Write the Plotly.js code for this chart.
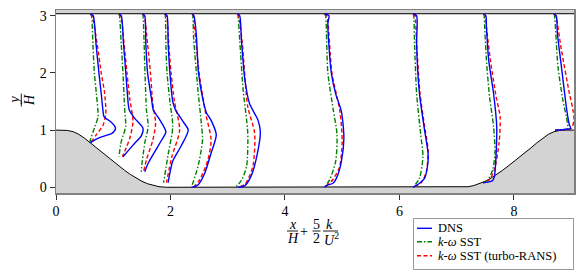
<!DOCTYPE html>
<html>
<head>
<meta charset="utf-8">
<script src="https://cdn.plot.ly/plotly-3.0.1.min.js"></script>
<style>html,body{margin:0;padding:0;background:#fff;}#chart{width:585px;height:279px;}</style>
</head>
<body>
<div id="chart"></div>
<script>
// ---- Data ----
// Hill geometry (x/H, y/H)
const hillX = [0, 0.1, 0.2, 0.3, 0.4, 0.5, 0.6, 0.7, 0.8, 0.9, 1.0, 1.1, 1.2, 1.3, 1.4, 1.5, 1.6, 1.7, 1.8, 1.929,
               7.071, 7.2, 7.3, 7.4, 7.5, 7.6, 7.7, 7.8, 7.9, 8.0, 8.1, 8.2, 8.3, 8.4, 8.5, 8.6, 8.7, 8.8, 8.9, 9.0, 9.05];
const hillY = [1, 1, 0.994, 0.972, 0.925, 0.857, 0.776, 0.691, 0.607, 0.527, 0.448, 0.371, 0.295, 0.224, 0.160, 0.105, 0.062, 0.030, 0.010, 0,
               0, 0.010, 0.030, 0.062, 0.105, 0.160, 0.224, 0.295, 0.371, 0.448, 0.527, 0.607, 0.691, 0.776, 0.857, 0.925, 0.972, 0.994, 1, 1, 1];
const topWallY = 3.035;
const wallX = [0, 9.05];

// Profiles: x/H + 2.5 k/U^2  vs  y/H
const dnsX = [
  [0.60, 0.65, 0.70, 0.75, 0.79, 0.82, 0.84, 0.94, 1.02, 1.04, 1.01, 0.97, 0.76, 0.63, 0.60],
  [1.10, 1.14, 1.18, 1.22, 1.25, 1.28, 1.38, 1.52, 1.49, 1.375, 1.27, 1.17],
  [1.51, 1.55, 1.57, 1.60, 1.67, 1.70, 1.80, 1.92, 1.83, 1.76, 1.61, 1.55],
  [1.90, 1.94, 1.96, 1.99, 2.04, 2.09, 2.22, 2.31, 2.19, 2.04, 1.98, 1.96],
  [2.38, 2.41, 2.45, 2.49, 2.57, 2.63, 2.71, 2.80, 2.71, 2.60, 2.48, 2.38],
  [3.17, 3.21, 3.24, 3.30, 3.38, 3.53, 3.57, 3.51, 3.41, 3.30, 3.18],
  [4.69, 4.77, 4.75, 4.81, 4.89, 4.985, 5.03, 4.985, 4.90, 4.84, 4.75, 4.69],
  [6.24, 6.30, 6.30, 6.35, 6.43, 6.50, 6.50, 6.44, 6.35, 6.24],
  [7.47, 7.51, 7.52, 7.56, 7.645, 7.70, 7.69, 7.66, 7.63, 7.545, 7.46],
  [8.70, 8.74, 8.76, 8.83, 8.90, 8.94, 8.97, 8.99, 8.89, 8.72]
];
const dnsY = [
  [3.035, 3.0, 2.5, 2.0, 1.64, 1.35, 1.23, 1.16, 1.08, 1.03, 0.97, 0.94, 0.87, 0.80, 0.78],
  [3.035, 3.0, 2.5, 2.0, 1.6, 1.35, 1.2, 1.03, 0.9, 0.77, 0.65, 0.535],
  [3.035, 3.0, 2.5, 2.0, 1.54, 1.35, 1.2, 0.97, 0.8, 0.68, 0.42, 0.27],
  [3.035, 3.0, 2.5, 2.0, 1.5, 1.35, 1.15, 1.0, 0.73, 0.46, 0.2, 0.08],
  [3.035, 3.0, 2.69, 2.0, 1.52, 1.3, 1.17, 0.92, 0.6, 0.25, 0.04, 0.0],
  [3.035, 3.0, 2.57, 1.88, 1.47, 1.17, 0.97, 0.55, 0.2, 0.03, 0],
  [3.035, 3.0, 2.87, 2.0, 1.62, 1.33, 0.86, 0.45, 0.16, 0.07, 0.04, 0],
  [3.035, 3.0, 2.51, 1.64, 1.06, 0.6, 0.45, 0.16, 0.07, 0],
  [3.035, 3.0, 2.80, 2.22, 1.64, 1.06, 0.60, 0.19, 0.12, 0.09, 0.08],
  [3.035, 3.0, 2.69, 2.11, 1.53, 1.24, 1.09, 1.03, 1.01, 1.0]
];
const sstX = [
  [0.60, 0.62, 0.645, 0.67, 0.705, 0.734, 0.676, 0.60, 0.59],
  [1.10, 1.11, 1.14, 1.17, 1.2, 1.217, 1.14, 1.10],
  [1.51, 1.52, 1.54, 1.555, 1.58, 1.61, 1.55, 1.49, 1.49],
  [1.90, 1.91, 1.92, 1.94, 1.99, 2.04, 1.96, 1.88],
  [2.38, 2.39, 2.405, 2.48, 2.54, 2.56, 2.48, 2.365],
  [3.17, 3.18, 3.21, 3.27, 3.35, 3.33, 3.24, 3.14],
  [4.69, 4.71, 4.72, 4.75, 4.84, 4.91, 4.885, 4.78, 4.69],
  [6.24, 6.25, 6.265, 6.30, 6.37, 6.41, 6.35, 6.24],
  [7.47, 7.48, 7.49, 7.52, 7.575, 7.645, 7.67, 7.63, 7.545, 7.46],
  [8.70, 8.71, 8.77, 8.855, 8.915, 8.94, 8.94, 8.72]
];
const sstY = [
  [3.035, 3.0, 2.5, 2.0, 1.64, 1.23, 1.05, 0.83, 0.78],
  [3.035, 3.0, 2.5, 2.0, 1.35, 1.06, 0.80, 0.535],
  [3.035, 3.0, 2.5, 2.0, 1.35, 1.06, 0.77, 0.30, 0.27],
  [3.035, 3.0, 2.5, 2.0, 1.5, 1.06, 0.58, 0.08],
  [3.035, 3.0, 2.6, 1.70, 1.11, 0.83, 0.36, 0],
  [3.035, 3.0, 2.57, 1.70, 0.95, 0.37, 0.12, 0],
  [3.035, 3.0, 2.87, 2.0, 1.38, 0.92, 0.45, 0.13, 0],
  [3.035, 3.0, 2.51, 1.64, 0.94, 0.53, 0.16, 0],
  [3.035, 3.0, 2.80, 2.22, 1.58, 1.06, 0.60, 0.31, 0.13, 0.08],
  [3.035, 3.0, 2.11, 1.53, 1.24, 1.09, 1.03, 1.0]
];
const turboX = [
  [0.60, 0.63, 0.72, 0.79, 0.85, 0.87, 0.82, 0.705, 0.62, 0.60],
  [1.10, 1.13, 1.19, 1.24, 1.29, 1.345, 1.29, 1.23, 1.16],
  [1.51, 1.54, 1.60, 1.65, 1.69, 1.74, 1.69, 1.58, 1.53],
  [1.90, 1.93, 1.97, 2.01, 2.07, 2.16, 2.02, 1.93],
  [2.38, 2.40, 2.44, 2.50, 2.615, 2.71, 2.655, 2.51, 2.40],
  [3.17, 3.19, 3.25, 3.35, 3.47, 3.44, 3.30, 3.16],
  [4.69, 4.73, 4.82, 4.96, 5.00, 4.95, 4.81, 4.69],
  [6.24, 6.27, 6.30, 6.36, 6.44, 6.50, 6.47, 6.38, 6.24],
  [7.47, 7.50, 7.52, 7.59, 7.69, 7.76, 7.74, 7.66, 7.57, 7.46],
  [8.70, 8.73, 8.83, 8.97, 9.03, 9.05, 9.0, 8.72]
];
const turboY = [
  [3.035, 3.0, 2.5, 2.0, 1.64, 1.29, 1.08, 0.92, 0.80, 0.78],
  [3.035, 3.0, 2.5, 2.0, 1.54, 1.15, 0.86, 0.7, 0.535],
  [3.035, 3.0, 2.5, 2.0, 1.47, 1.12, 0.82, 0.48, 0.27],
  [3.035, 3.0, 2.5, 2.0, 1.5, 1.0, 0.52, 0.08],
  [3.035, 3.0, 2.6, 2.0, 1.29, 0.83, 0.48, 0.13, 0],
  [3.035, 3.0, 2.57, 1.41, 0.95, 0.37, 0.05, 0],
  [3.035, 3.0, 2.0, 1.33, 0.80, 0.34, 0.1, 0],
  [3.035, 3.0, 2.51, 1.64, 1.06, 0.66, 0.27, 0.08, 0],
  [3.035, 3.0, 2.80, 2.22, 1.58, 1.23, 0.77, 0.31, 0.13, 0.08],
  [3.035, 3.0, 2.4, 1.64, 1.36, 1.18, 1.03, 1.0]
];
const xTicks = [0, 2, 4, 6, 8];
const yTicks = [0, 1, 2, 3];
const legendNames = ['DNS', '<i>k</i>-<i>ω</i> SST', '<i>k</i>-<i>ω</i> SST (turbo-RANS)'];

// ---- Styles ----
const BLUE = '#0000ff', GREEN = '#008000', RED = '#ff0000';
const FONT = 'Liberation Serif';
const W = 585, H = 279, ML = 56, MR = 11, MT = 10, MB = 86;
const PW = W - ML - MR, PH = H - MT - MB;
const px = v => (v - ML) / PW;          // pixel x -> paper
const py = v => (H - MB - v) / PH;      // pixel y -> paper

const traces = [];
// hill fill
const yLow = -0.3;
traces.push({
  x: hillX.concat([hillX[hillX.length - 1], hillX[0]]),
  y: hillY.concat([yLow, yLow]),
  mode: 'lines', fill: 'toself', fillcolor: '#d3d3d3',
  line: {width: 0, color: 'rgba(0,0,0,0)'}, hoverinfo: 'skip', showlegend: false
});
traces.push({x: hillX, y: hillY, mode: 'lines', line: {color: '#000', width: 1}, showlegend: false, hoverinfo: 'skip'});
// top wall
traces.push({
  x: [wallX[0], wallX[1], wallX[1], wallX[0]], y: [topWallY, topWallY, 3.3, 3.3],
  mode: 'lines', fill: 'toself', fillcolor: '#d3d3d3', line: {width: 0, color: 'rgba(0,0,0,0)'},
  showlegend: false, hoverinfo: 'skip'
});
traces.push({x: wallX, y: [topWallY, topWallY], mode: 'lines', line: {color: '#000', width: 1}, showlegend: false, hoverinfo: 'skip'});

function addSet(X, Y, color, dash) {
  for (let i = 0; i < X.length; i++) {
    traces.push({x: X[i], y: Y[i], mode: 'lines',
      line: {color: color, width: 1.4, dash: dash, shape: 'spline', smoothing: 0.7},
      showlegend: false, hoverinfo: 'skip'});
  }
}
addSet(sstX, sstY, GREEN, '5px,2px,1.5px,2px');
addSet(turboX, turboY, RED, '4px,2.5px');
addSet(dnsX, dnsY, BLUE, 'solid');

const ann = [];
const shapes = [];
function txt(t, x, y, opts) {
  ann.push(Object.assign({text: t, x: px(x), y: py(y), xref: 'paper', yref: 'paper', showarrow: false,
    xanchor: 'center', yanchor: 'middle', borderpad: 0,
    font: {family: FONT, size: 14, color: '#000'}}, opts || {}));
}
function bar(x0, x1, y0, y1) {
  shapes.push({type: 'line', xref: 'paper', yref: 'paper', x0: px(x0), x1: px(x1), y0: py(y0), y1: py(y1),
    line: {color: '#000', width: 0.9}});
}
// x-axis title: x/H + 5/2 k/U^2
txt('<i>x</i>', 292.5, 224.5);
txt('<i>H</i>', 292.5, 238);
bar(287, 298, 231, 231);
txt('+', 303.5, 231);
txt('5', 316.5, 224.5);
txt('2', 316.5, 238);
bar(312.5, 320.5, 231, 231);
txt('<i>k</i>', 329.5, 224.5);
txt('<i>U</i><sup>2</sup>', 331, 238.5);
bar(323, 338, 231, 231);
// y-axis title: y/H (rotated)
txt('<i>y</i>', 13.5, 100, {textangle: -90});
txt('<i>H</i>', 29, 100, {textangle: -90});
bar(21.3, 21.3, 93.5, 106.5);

// custom legend
shapes.push({type: 'rect', xref: 'paper', yref: 'paper', x0: px(413.5), x1: px(573.5), y0: py(218.5), y1: py(269.5),
  line: {color: '#999', width: 1}, fillcolor: '#fff'});
const legColors = [BLUE, GREEN, RED];
const legDash = ['solid', '5px,2px,1.5px,2px', '4px,2.5px'];
const legY = [228.3, 241.7, 255.7];
for (let i = 0; i < 3; i++) {
  shapes.push({type: 'line', xref: 'paper', yref: 'paper', x0: px(417), x1: px(432), y0: py(legY[i]), y1: py(legY[i]),
    line: {color: legColors[i], width: 1.4, dash: legDash[i]}});
  txt(legendNames[i], 437, legY[i], {xanchor: 'left', font: {family: FONT, size: 12.5, color: '#000'}});
}

const axisCommon = {
  showgrid: false, zeroline: false, showline: true, mirror: true, linecolor: '#808080', linewidth: 1.5,
  ticks: 'outside', ticklen: 5, tickwidth: 1, tickcolor: '#333',
  tickfont: {family: FONT, size: 14, color: '#000'}
};
const layout = {
  width: W, height: H, margin: {l: ML, r: MR, t: MT, b: MB, pad: 0},
  paper_bgcolor: '#fff', plot_bgcolor: '#fff', showlegend: false,
  xaxis: Object.assign({}, axisCommon, {range: [0, 9.05], tickvals: xTicks, ticktext: xTicks.map(String)}),
  yaxis: Object.assign({}, axisCommon, {range: [-0.1, 3.1], tickvals: yTicks, ticktext: yTicks.map(String)}),
  annotations: ann, shapes: shapes
};
Plotly.newPlot('chart', traces, layout, {staticPlot: true, displayModeBar: false});
</script>
</body>
</html>
